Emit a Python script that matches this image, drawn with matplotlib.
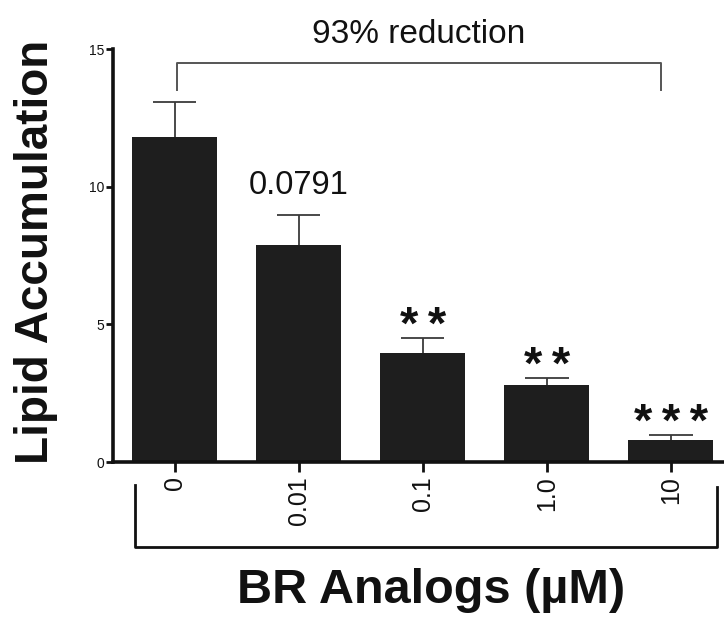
import numpy as np
import matplotlib
matplotlib.use("Agg")
import matplotlib.pyplot as plt
from matplotlib.lines import Line2D

plt.rcParams['font.family'] = ['Liberation Sans', 'DejaVu Sans']

# Data: lipid accumulation vs BR analog concentration
concentrations = ['0', '0.01', '0.1', '1.0', '10']
means = [11.80, 7.88, 3.96, 2.80, 0.80]
sems = [1.28, 1.09, 0.54, 0.25, 0.18]
annotations = ['0.0791', '*\u2009*', '*\u2009*', '*\u2009*\u2009*']   # for bars 1..4
reduction_label = '93% reduction'

fig = plt.figure(figsize=(7.24, 6.23), dpi=100)
ax = fig.add_axes([0.1561, 0.2584, 0.8425, 0.6629])

x = np.arange(len(concentrations))
means_arr = np.array(means)
sems_arr = np.array(sems)
tops = means_arr + sems_arr

ax.bar(x, means_arr, width=0.685, color='#1e1e1e', zorder=2)
# upper error bars only
ax.vlines(x, means_arr, tops, color='#3a3a3a', lw=1.3, zorder=3)
ax.hlines(tops, x - 0.175, x + 0.175, color='#3a3a3a', lw=1.3, zorder=3)

ax.set_xlim(-0.496, 4.42)
ax.set_ylim(0, 15)
for s in ('top', 'right'):
    ax.spines[s].set_visible(False)
for s in ('left', 'bottom'):
    ax.spines[s].set_linewidth(2.6)
    ax.spines[s].set_color('#111111')

ax.set_yticks([0, 5, 10, 15])
ax.set_yticklabels(['0', '5', '10', '15'], fontsize=10)
ax.tick_params(axis='y', length=5, width=2, pad=1, colors='#111111')
ax.set_xticks(x)
ax.set_xticklabels(concentrations, rotation=90, fontsize=18)
ax.tick_params(axis='x', length=7, width=2, pad=3, colors='#111111')

# significance labels above error bars
for i, lab in enumerate(annotations, start=1):
    if lab.startswith('*'):
        ax.annotate(lab, xy=(x[i], tops[i]), xytext=(0, -0.5), textcoords='offset points',
                    ha='center', va='baseline', fontsize=34, fontweight='bold',
                    color='#111111', annotation_clip=False)
    else:
        ax.annotate(lab, xy=(x[i], tops[i]), xytext=(0, 15), textcoords='offset points',
                    ha='center', va='baseline', fontsize=23.5, color='#111111',
                    annotation_clip=False)

# bracket spanning control to highest dose
bx0, bx1 = 0.02, 3.92
by_top, by_bot = 14.49, 13.51
ax.plot([bx0, bx0, bx1, bx1], [by_bot, by_top, by_top, by_bot], color='#555555',
        lw=1.4, clip_on=False, zorder=4)
ax.text((bx0 + bx1) / 2, 15.22, reduction_label, ha='center', va='baseline',
        fontsize=24, color='#111111', clip_on=False)

# bracket grouping the concentrations
fig.add_artist(Line2D([0.1865, 0.1865, 0.9903, 0.9903], [0.2215, 0.122, 0.122, 0.218],
                      color='#111111', lw=2.0, transform=fig.transFigure))

fig.text(0.080, 0.5955, 'Lipid Accumulation', rotation=90, ha='right', va='center',
         fontsize=33, fontweight='bold', color='#111111')
fig.text(0.595, 0.0321, 'BR Analogs (\u00b5M)', ha='center', va='baseline',
         fontsize=35, fontweight='bold', color='#111111')

fig.savefig('out.png', dpi=100)
